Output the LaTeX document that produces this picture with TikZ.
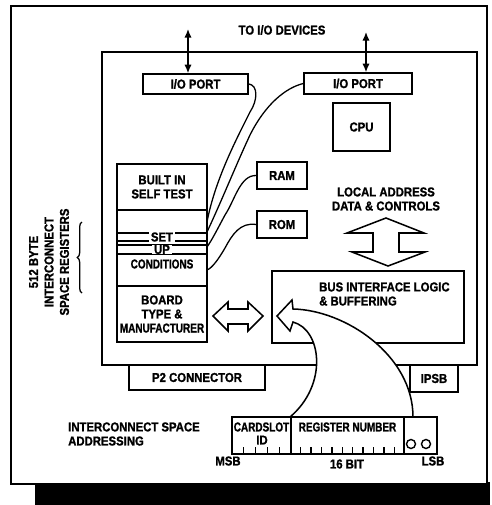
\documentclass[tikz,border=0pt]{standalone}
\usepackage{fontspec}
\setmainfont{Liberation Sans}[FakeStretch=0.88, BoldFeatures={FakeBold=1.2}]
\usetikzlibrary{arrows.meta, decorations.pathreplacing, calc}
\newcommand{\lblfont}{\fontsize{11}{12}\selectfont\bfseries}
\newcommand{\narrow}[1]{\scalebox{0.88}[1]{#1}}
\tikzset{
  blk/.style  = {rectangle, draw, line width=1.3pt, fill=white,
                 inner sep=0pt, align=center, font=\lblfont},
  lbl/.style  = {inner sep=0pt, align=center, font=\lblfont},
  wire/.style = {line width=1.1pt},
  darr/.style = {{Latex[length=2.6mm,width=2.2mm]}-{Latex[length=2.6mm,width=2.2mm]},
                 line width=1.2pt},
  hol/.style  = {draw, line width=1.3pt, fill=white, line join=miter},
}

\begin{document}
\begin{tikzpicture}[
  x=0.3mm, y=-0.3mm,
  frame/.style={draw, line width=1.7pt},
]
  \useasboundingbox (0,0) rectangle (492,505);

  %% Outer frame with its shadow
  \fill (35,482) rectangle (490,505);
  \draw[frame, fill=white] (11,6) rectangle (487,484);

  %% Edge connectors, then the board
  \node[blk, minimum width=40.8mm, minimum height=7.5mm] (p2)   at (197,377.5) {P2 CONNECTOR};
  \node[blk, minimum width=14.4mm, minimum height=8.1mm] (ipsb) at (434,378.5) {IPSB};
  \draw[frame] (102,52) rectangle (477,365);

  \node[lbl] (todev) at (282,30) {TO I/O DEVICES};
  \coordinate (topL) at (188,29);
  \coordinate (topR) at (366,32);

  \node[blk, minimum width=31.5mm, minimum height=6mm]   (ioL) at (195.5,84)  {I/O PORT};
  \node[blk, minimum width=32.4mm, minimum height=6.3mm] (ioR) at (358,83.5)  {I/O PORT};
  \node[blk, minimum width=17.1mm, minimum height=14.4mm] (cpu) at (361.5,127) {CPU};
  \node[blk, minimum width=15mm, minimum height=8.1mm]   (ram) at (282,175.5) {RAM};
  \node[blk, minimum width=15mm, minimum height=8.1mm]   (rom) at (282,224.5) {ROM};

  \draw[darr] (topL) -- (topL |- ioL.north);
  \draw[darr] (topR) -- (topR |- ioR.north);

  %% Interconnect space stack
  \node[blk, minimum width=27mm, minimum height=13.8mm] (bist)  at (162,187) {BUILT IN\\SELF TEST};
  \node[blk, minimum width=27mm, minimum height=22.8mm] (setup) at (162,248) {};
  \node[blk, minimum width=27mm, minimum height=16.8mm] (board) at (162,314)
        {BOARD\\TYPE \&\\\narrow{MANUFACTURER}};
  \foreach \y in {233,241,245,254}
    \draw[line width=1.2pt] (setup.west |- 0,\y) -- (setup.east |- 0,\y);
  \node[lbl, fill=white, inner xsep=2pt] (set)  at (162,237)   {SET};
  \node[lbl, fill=white, inner xsep=2pt] (up)   at (162,249.5) {UP};
  \node[lbl] (cond) at (162,264) {\narrow{CONDITIONS}};

  %% Wires from the stack
  \coordinate (s1) at (207,222);
  \coordinate (s2) at (207,232);
  \coordinate (s3) at (207,247);
  \coordinate (s4) at (207,270);
  \draw[wire] (ioL.east) .. controls (258,85) and (258,100) .. (250,112)
              .. controls (236,140) and (215,180) .. (s1);
  \draw[wire] (ioR.west) .. controls (285,88) and (265,105) .. (250,135)
              .. controls (236,165) and (222,200) .. (s2);
  \draw[wire] (ram.west) .. controls (240,175) and (235,200) .. (225,215)
              .. controls (218,228) and (212,240) .. (s3);
  \draw[wire] (rom.west) .. controls (240,222) and (232,235) .. (225,248)
              .. controls (218,260) and (212,268) .. (s4);

  %% Bus interface
  \node[blk, minimum width=57.6mm, minimum height=21.6mm] (bus) at (368,307) {};
  \node[lbl, align=left, anchor=west] (bustxt) at (319,294)
        {BUS INTERFACE LOGIC\\\& BUFFERING};
  \node[lbl] (local) at (386,199) {LOCAL ADDRESS\\DATA \& CONTROLS};

  %% Hollow arrows
  \draw[hol] (386,218) -- (424,233) -- (399,233) -- (399,252) -- (425,252)
             -- (388,266) -- (352,252) -- (373,252) -- (373,233) -- (347,233) -- cycle;
  \draw[hol] (213,316) -- (228,302) -- (228,309) -- (248,309) -- (248,302)
             -- (263,316) -- (248,331) -- (248,324) -- (228,324) -- (228,331) -- cycle;

  %% Register word
  \node[blk, minimum width=17.7mm, minimum height=11.1mm] (card) at (261.5,435.5) {};
  \node[blk, minimum width=33.9mm, minimum height=11.1mm] (regn) at (347.5,435.5) {};
  \node[blk, minimum width=9.9mm,  minimum height=11.1mm] (lsbc) at (420.5,435.5) {};
  \foreach \i in {1,...,4}
    \draw[line width=1.1pt] ($(card.south west)!\i/5!(card.south east)$) -- ++(0,-8);
  \foreach \i in {1,...,10}
    \draw[line width=1.1pt] ($(regn.south west)!\i/11!(regn.south east)$) -- ++(0,-8);
  \draw[line width=1.2pt] (411,444) circle[radius=4.5];
  \draw[line width=1.2pt] (426,444) circle[radius=4.5];
  \node[lbl] (cardtxt) at (261.5,427) {\narrow{CARDSLOT}};
  \node[lbl, fill=white, inner xsep=1pt] (idtxt) at (262,440) {ID};
  \node[lbl] (regtxt) at (347.5,427) {\narrow{REGISTER NUMBER}};

  \draw[hol] (277,316) -- (292,300) -- (293,309)
             .. controls (345,310) and (413,355) .. (413,417) -- (290,417)
             .. controls (328,385) and (322,330) .. (293,322) -- (290,331) -- cycle;

  \node[lbl] (msb)  at (228,461) {MSB};
  \node[lbl] (bits) at (347,464) {16 BIT};
  \node[lbl] (lsb)  at (433,461) {LSB};

  %% Left-hand notes
  \node[lbl, align=left, anchor=west] (isa)
        at (68,434) {INTERCONNECT SPACE\\ADDRESSING};
  \node[lbl, rotate=90, font=\fontsize{11}{13.2}\selectfont\bfseries] (isr)
        at (49,262) {512 BYTE\\INTERCONNECT\\SPACE REGISTERS};
  \coordinate (brb) at (82,293);
  \coordinate (brt) at (82,222);
  \draw[line width=1.1pt, decorate, decoration={brace, amplitude=4pt}] (brb) -- (brt);

\end{tikzpicture}
\end{document}
